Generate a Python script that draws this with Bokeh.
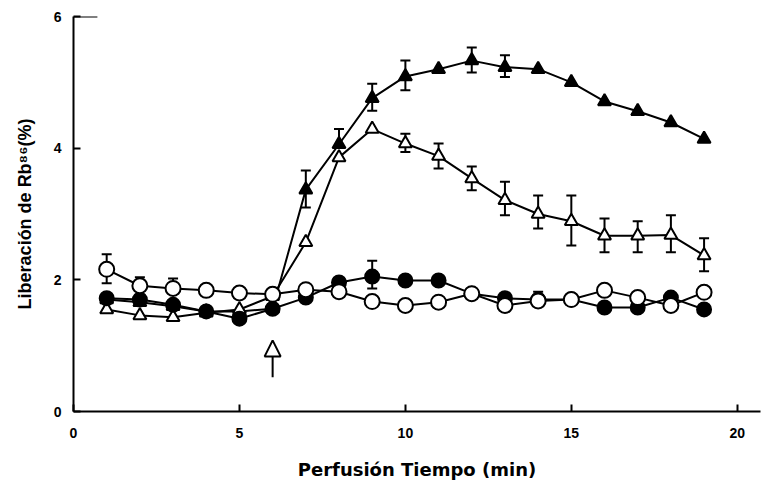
from bokeh.plotting import figure
from bokeh.models import Range1d, ColumnDataSource, Whisker, TeeHead, Arrow, NormalHead, FixedTicker
from bokeh.embed import file_html
from bokeh.resources import INLINE

# ---- data ----
t = list(range(1, 20))

open_circ = [2.16, 1.91, 1.87, 1.84, 1.80, 1.78, 1.85, 1.82, 1.67, 1.61, 1.66, 1.79, 1.61, 1.68, 1.70, 1.84, 1.73, 1.61, 1.81]
open_circ_hi = [2.39, 2.04, 2.02, None, None, None, None, None, None, None, None, None, None, None, None, None, None, None, None]
open_circ_lo = [1.95, None, None, None, None, None, None, None, None, None, None, None, None, None, None, None, None, None, None]

fill_circ = [1.72, 1.70, 1.62, 1.52, 1.41, 1.56, 1.73, 1.96, 2.05, 1.99, 1.99, 1.79, 1.72, 1.70, 1.70, 1.58, 1.58, 1.73, 1.55]
fill_circ_hi = [None, None, None, None, None, None, None, None, 2.29, None, None, None, None, 1.82, None, None, None, None, None]
fill_circ_lo = [None, None, None, None, None, None, None, None, 1.87, None, None, None, None, None, None, None, None, None, None]

open_tri = [1.55, 1.46, 1.43, 1.50, 1.55, 1.75, 2.57, 3.86, 4.29, 4.07, 3.88, 3.54, 3.21, 3.00, 2.89, 2.67, 2.67, 2.68, 2.37]
open_tri_hi = [None, None, None, None, None, None, None, None, None, 4.22, 4.07, 3.72, 3.49, 3.28, 3.28, 2.93, 2.89, 2.98, 2.63]
open_tri_lo = [None, None, None, None, None, None, None, None, None, 3.94, 3.69, 3.36, 2.98, 2.78, 2.52, 2.42, 2.42, 2.42, 2.13]

fill_tri = [1.70, 1.66, 1.60, 1.52, 1.52, 1.56, 3.37, 4.06, 4.76, 5.09, 5.20, 5.33, 5.23, 5.20, 5.00, 4.71, 4.56, 4.39, 4.14]
fill_tri_hi = [None, None, None, None, None, None, 3.66, 4.29, 4.98, 5.33, None, 5.53, 5.41, None, None, None, None, None, None]
fill_tri_lo = [None, None, None, None, None, None, 3.10, None, 4.57, 4.88, None, 5.15, 5.08, None, None, None, None, None, None]

x_ticks = [0, 5, 10, 15, 20]
y_ticks = [0, 2, 4, 6]
arrow_x = 6
arrow_y = [0.52, 1.08]

x_label = "Perfusión Tiempo (min)"
y_label = "Liberación de Rb⁸⁶(%)"

p = figure(width=772, height=485, output_backend="svg", toolbar_location=None,
           x_range=Range1d(0, 20.7), y_range=Range1d(0, 6),
           min_border_left=73, min_border_right=12, min_border_top=16, min_border_bottom=74)
p.outline_line_color = None
p.grid.visible = False
p.background_fill_color = "white"
p.border_fill_color = "white"

for ax in (p.xaxis[0], p.yaxis[0]):
    ax.axis_line_width = 2
    ax.axis_line_color = "black"
    ax.major_tick_in = 7
    ax.major_tick_out = 0
    ax.major_tick_line_width = 2
    ax.minor_tick_line_color = None
    ax.major_label_text_font = "Liberation Sans"
    ax.major_label_text_font_style = "bold"
    ax.major_label_text_font_size = "14px"
    ax.major_label_text_color = "black"
    ax.axis_label_text_color = "black"

p.xaxis.ticker = FixedTicker(ticks=x_ticks)
p.yaxis.ticker = FixedTicker(ticks=y_ticks)
p.xaxis.major_label_standoff = 16
p.yaxis.major_label_standoff = 12

p.xaxis.axis_label = x_label
p.xaxis.axis_label_text_font = "DejaVu Sans"
p.xaxis.axis_label_text_font_style = "bold"
p.xaxis.axis_label_text_font_size = "18px"
p.xaxis.axis_label_standoff = 18

p.yaxis.axis_label = y_label
p.yaxis.axis_label_text_font = "Liberation Sans"
p.yaxis.axis_label_text_font_style = "bold"
p.yaxis.axis_label_text_font_size = "18px"
p.yaxis.axis_label_standoff = 16

# long top tick of the y axis
p.segment(x0=[0], y0=[y_ticks[-1]], x1=[0.72], y1=[y_ticks[-1]], line_color="black", line_width=2)


def errbars(vals, hi, lo):
    xs_u, base_u, up = [], [], []
    xs_l, base_l, low = [], [], []
    for x, v, h, l in zip(t, vals, hi, lo):
        if h is not None:
            xs_u.append(x); base_u.append(v); up.append(h)
        if l is not None:
            xs_l.append(x); base_l.append(v); low.append(l)
    for xs, b, e in ((xs_u, base_u, up), (xs_l, base_l, low)):
        if not xs:
            continue
        src = ColumnDataSource(dict(x=xs, b=b, e=e))
        w = Whisker(base="x", lower="b", upper="e", source=src, dimension="height",
                    line_color="black", line_width=2,
                    upper_head=TeeHead(size=10, line_width=2, line_color="black"),
                    lower_head=None, level="underlay")
        p.add_layout(w)


series = [
    (fill_tri, fill_tri_hi, fill_tri_lo, "triangle", "black", 13),
    (open_tri, open_tri_hi, open_tri_lo, "triangle", "white", 13),
    (fill_circ, fill_circ_hi, fill_circ_lo, "circle", "black", 14),
    (open_circ, open_circ_hi, open_circ_lo, "circle", "white", 15),
]

for vals, hi, lo, mk, fill, sz in series:
    errbars(vals, hi, lo)

for vals, hi, lo, mk, fill, sz in series:
    p.line(t, vals, line_color="black", line_width=2)

for vals, hi, lo, mk, fill, sz in series:
    p.scatter(t, vals, marker=mk, size=sz, fill_color=fill, line_color="black", line_width=2)

p.add_layout(Arrow(x_start=arrow_x, y_start=arrow_y[0], x_end=arrow_x, y_end=arrow_y[1],
                   line_color="black", line_width=2,
                   end=NormalHead(size=16, fill_color="white", line_color="black", line_width=2)))

open("out.html", "w").write(file_html(p, INLINE))
